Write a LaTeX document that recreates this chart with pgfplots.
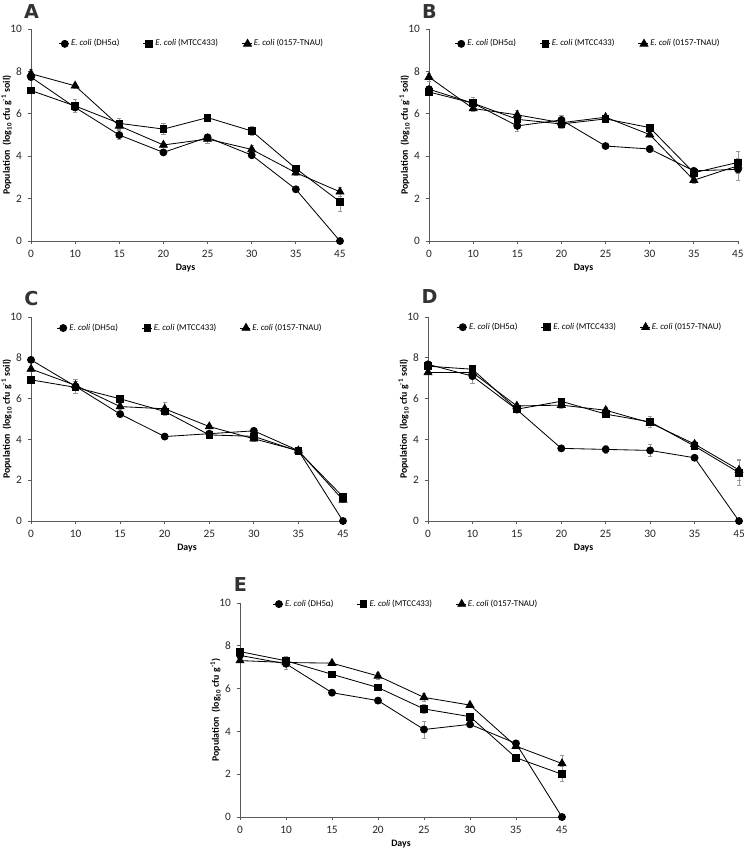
\documentclass[border=0pt]{standalone}
\usepackage{fontspec}
\setmainfont{Carlito}
\newfontfamily\letterfont{DejaVu Sans}
\usepackage{pgfplots}
\pgfplotsset{compat=1.18}

% one reference pixel = 0.6pt
\pgfplotsset{
  panel/.style={
    scale only axis, anchor=south west, clip=false,
    xmin=0, xmax=7, ymin=0, ymax=10,
    xtick={0,...,7}, xticklabels={0,10,15,20,25,30,35,45},
    ytick={0,2,...,10},
    axis lines=left, axis line style={-, black!65, line width=0.5pt},
    tick align=outside, major tick length=2pt,
    tick style={black!65, line width=0.5pt},
    /pgf/number format/assume math mode=true,
    ticklabel style={font=\fontsize{6.8}{7}\selectfont, text=black!85},
    label style={font=\bfseries\fontsize{5.9}{6.5}\selectfont},
    xlabel={Days},
    ylabel={Population~~(log\textsubscript{10} cfu g\textsuperscript{-1} soil)},
    xlabel style={yshift=3pt},
    ylabel style={at={([xshift=-14.7pt]rel axis cs:0,0.5)}, anchor=center},
    legend columns=3,
    legend style={draw=none, fill=none, anchor=center,
      font=\fontsize{5.3}{6}\selectfont,
      /tikz/every even column/.append style={column sep=13pt},
      nodes={inner sep=1pt}},
    legend image code/.code={
      \draw[#1, mark=none] (0pt,0pt) -- (6pt,0pt);
      \draw[#1, only marks] plot coordinates {(3.5pt,0pt)};
    },
    error bars/y dir=both, error bars/y explicit,
    error bars/error bar style={black!40, line width=0.4pt},
    error bars/error mark options={rotate=90, mark size=1.3pt, black!40},
  },
  s1/.style={black, line width=0.5pt, mark=*, mark size=2.1pt, mark options={solid, fill=black}},
  s2/.style={black, line width=0.5pt, mark=square*, mark size=2.0pt, mark options={solid, fill=black}},
  s3/.style={black, line width=0.5pt, mark=triangle*, mark size=2.7pt, mark options={solid, fill=black}},
}
\newcommand{\legA}{\textit{E. coli} (DH5α)}
\newcommand{\legB}{\textit{E. coli} (MTCC433)}
\newcommand{\legC}{\textit{E. coli} (0157-TNAU)}

\begin{document}
\begin{tikzpicture}
\path[use as bounding box] (0pt,0pt) rectangle (447pt,-509.4pt);

% ---------- A ----------
\begin{axis}[panel, at={(18.6pt,-144.6pt)}, width=185.4pt, height=127.2pt,
  legend style={at={(0.52,0.93)}}]
\addplot[s1] coordinates {
 (0,7.73) +- (0,0.1) (1,6.30) +- (0,0.15) (2,5.00) +- (0,0.2) (3,4.18) +- (0,0.1)
 (4,4.89) +- (0,0.1) (5,4.05) +- (0,0.15) (6,2.44) +- (0,0.1) (7,0) +- (0,0)};
\addplot[s2] coordinates {
 (0,7.10) +- (0,0.1) (1,6.37) +- (0,0.3) (2,5.55) +- (0,0.25) (3,5.28) +- (0,0.25)
 (4,5.82) +- (0,0.15) (5,5.19) +- (0,0.2) (6,3.42) +- (0,0.1) (7,1.85) +- (0,0.45)};
\addplot[s3] coordinates {
 (0,7.89) +- (0,0.2) (1,7.32) +- (0,0.1) (2,5.43) +- (0,0.15) (3,4.53) +- (0,0.1)
 (4,4.81) +- (0,0.2) (5,4.32) +- (0,0.2) (6,3.22) +- (0,0.1) (7,2.32) +- (0,0.2)};
\legend{\legA,\legB,\legC}
\end{axis}

% ---------- B ----------
\begin{axis}[panel, at={(257.4pt,-144.6pt)}, width=185.4pt, height=127.2pt,
  legend style={at={(0.515,0.93)}}]
\addplot[s1] coordinates {
 (0,7.16) +- (0,0.1) (1,6.50) +- (0,0.15) (2,5.43) +- (0,0.25) (3,5.71) +- (0,0.2)
 (4,4.48) +- (0,0.1) (5,4.34) +- (0,0.15) (6,3.31) +- (0,0.1) (7,3.38) +- (0,0.5)};
\addplot[s2] coordinates {
 (0,7.03) +- (0,0.1) (1,6.50) +- (0,0.3) (2,5.74) +- (0,0.2) (3,5.52) +- (0,0.2)
 (4,5.76) +- (0,0.1) (5,5.35) +- (0,0.1) (6,3.22) +- (0,0.1) (7,3.71) +- (0,0.5)};
\addplot[s3] coordinates {
 (0,7.73) +- (0,0.2) (1,6.25) +- (0,0.15) (2,5.95) +- (0,0.2) (3,5.58) +- (0,0.15)
 (4,5.84) +- (0,0.1) (5,5.02) +- (0,0.15) (6,2.87) +- (0,0.15) (7,3.55) +- (0,0.2)};
\legend{\legA,\legB,\legC}
\end{axis}

% ---------- C ----------
\begin{axis}[panel, at={(18.6pt,-312.6pt)}, width=187.2pt, height=122.4pt,
  legend style={at={(0.51,0.946)}}]
\addplot[s1] coordinates {
 (0,7.90) +- (0,0.1) (1,6.60) +- (0,0.35) (2,5.24) +- (0,0.1) (3,4.14) +- (0,0.1)
 (4,4.28) +- (0,0.1) (5,4.42) +- (0,0.1) (6,3.45) +- (0,0.1) (7,0) +- (0,0)};
\addplot[s2] coordinates {
 (0,6.92) +- (0,0.1) (1,6.55) +- (0,0.15) (2,5.99) +- (0,0.1) (3,5.37) +- (0,0.1)
 (4,4.22) +- (0,0.1) (5,4.15) +- (0,0.1) (6,3.42) +- (0,0.1) (7,1.19) +- (0,0.1)};
\addplot[s3] coordinates {
 (0,7.45) +- (0,0.1) (1,6.65) +- (0,0.2) (2,5.61) +- (0,0.15) (3,5.50) +- (0,0.3)
 (4,4.63) +- (0,0.1) (5,4.03) +- (0,0.1) (6,3.45) +- (0,0.1) (7,1.03) +- (0,0.1)};
\legend{\legA,\legB,\legC}
\end{axis}

% ---------- D ----------
\begin{axis}[panel, at={(256.8pt,-312.6pt)}, width=186.6pt, height=122.4pt,
  legend style={at={(0.52,0.95)}}]
\addplot[s1] coordinates {
 (0,7.68) +- (0,0.1) (1,7.10) +- (0,0.35) (2,5.46) +- (0,0.1) (3,3.56) +- (0,0.1)
 (4,3.51) +- (0,0.2) (5,3.46) +- (0,0.3) (6,3.10) +- (0,0.1) (7,0) +- (0,0)};
\addplot[s2] coordinates {
 (0,7.59) +- (0,0.1) (1,7.44) +- (0,0.1) (2,5.48) +- (0,0.1) (3,5.87) +- (0,0.1)
 (4,5.24) +- (0,0.1) (5,4.86) +- (0,0.25) (6,3.67) +- (0,0.15) (7,2.37) +- (0,0.6)};
\addplot[s3] coordinates {
 (0,7.28) +- (0,0.1) (1,7.28) +- (0,0.1) (2,5.64) +- (0,0.1) (3,5.68) +- (0,0.15)
 (4,5.43) +- (0,0.15) (5,4.81) +- (0,0.2) (6,3.77) +- (0,0.15) (7,2.50) +- (0,0.5)};
\legend{\legA,\legB,\legC}
\end{axis}

% ---------- E ----------
\begin{axis}[panel, at={(144pt,-490.2pt)}, width=193.2pt, height=128.4pt,
  ylabel={Population~~(log\textsubscript{10} cfu g\textsuperscript{-1})},
  legend style={at={(0.515,0.995)}}]
\addplot[s1] coordinates {
 (0,7.55) +- (0,0.1) (1,7.16) +- (0,0.1) (2,5.81) +- (0,0.1) (3,5.44) +- (0,0.1)
 (4,4.09) +- (0,0.4) (5,4.33) +- (0,0.1) (6,3.44) +- (0,0.1) (7,0) +- (0,0)};
\addplot[s2] coordinates {
 (0,7.73) +- (0,0.1) (1,7.30) +- (0,0.2) (2,6.67) +- (0,0.1) (3,6.05) +- (0,0.1)
 (4,5.05) +- (0,0.2) (5,4.69) +- (0,0.1) (6,2.77) +- (0,0.1) (7,2.00) +- (0,0.35)};
\addplot[s3] coordinates {
 (0,7.31) +- (0,0.1) (1,7.22) +- (0,0.3) (2,7.19) +- (0,0.1) (3,6.59) +- (0,0.15)
 (4,5.59) +- (0,0.2) (5,5.23) +- (0,0.1) (6,3.31) +- (0,0.1) (7,2.50) +- (0,0.4)};
\legend{\legA,\legB,\legC}
\end{axis}

% panel letters
\begin{scope}[every node/.style={font=\letterfont\bfseries\fontsize{11.5}{12}\selectfont, text=black!80, inner sep=0pt}]
\node at (18.9pt,-7.2pt) {A};
\node at (257.7pt,-7.2pt) {B};
\node at (18.9pt,-179.4pt) {C};
\node at (257.7pt,-178.2pt) {D};
\node at (144.3pt,-351pt) {E};
\end{scope}
\end{tikzpicture}
\end{document}
